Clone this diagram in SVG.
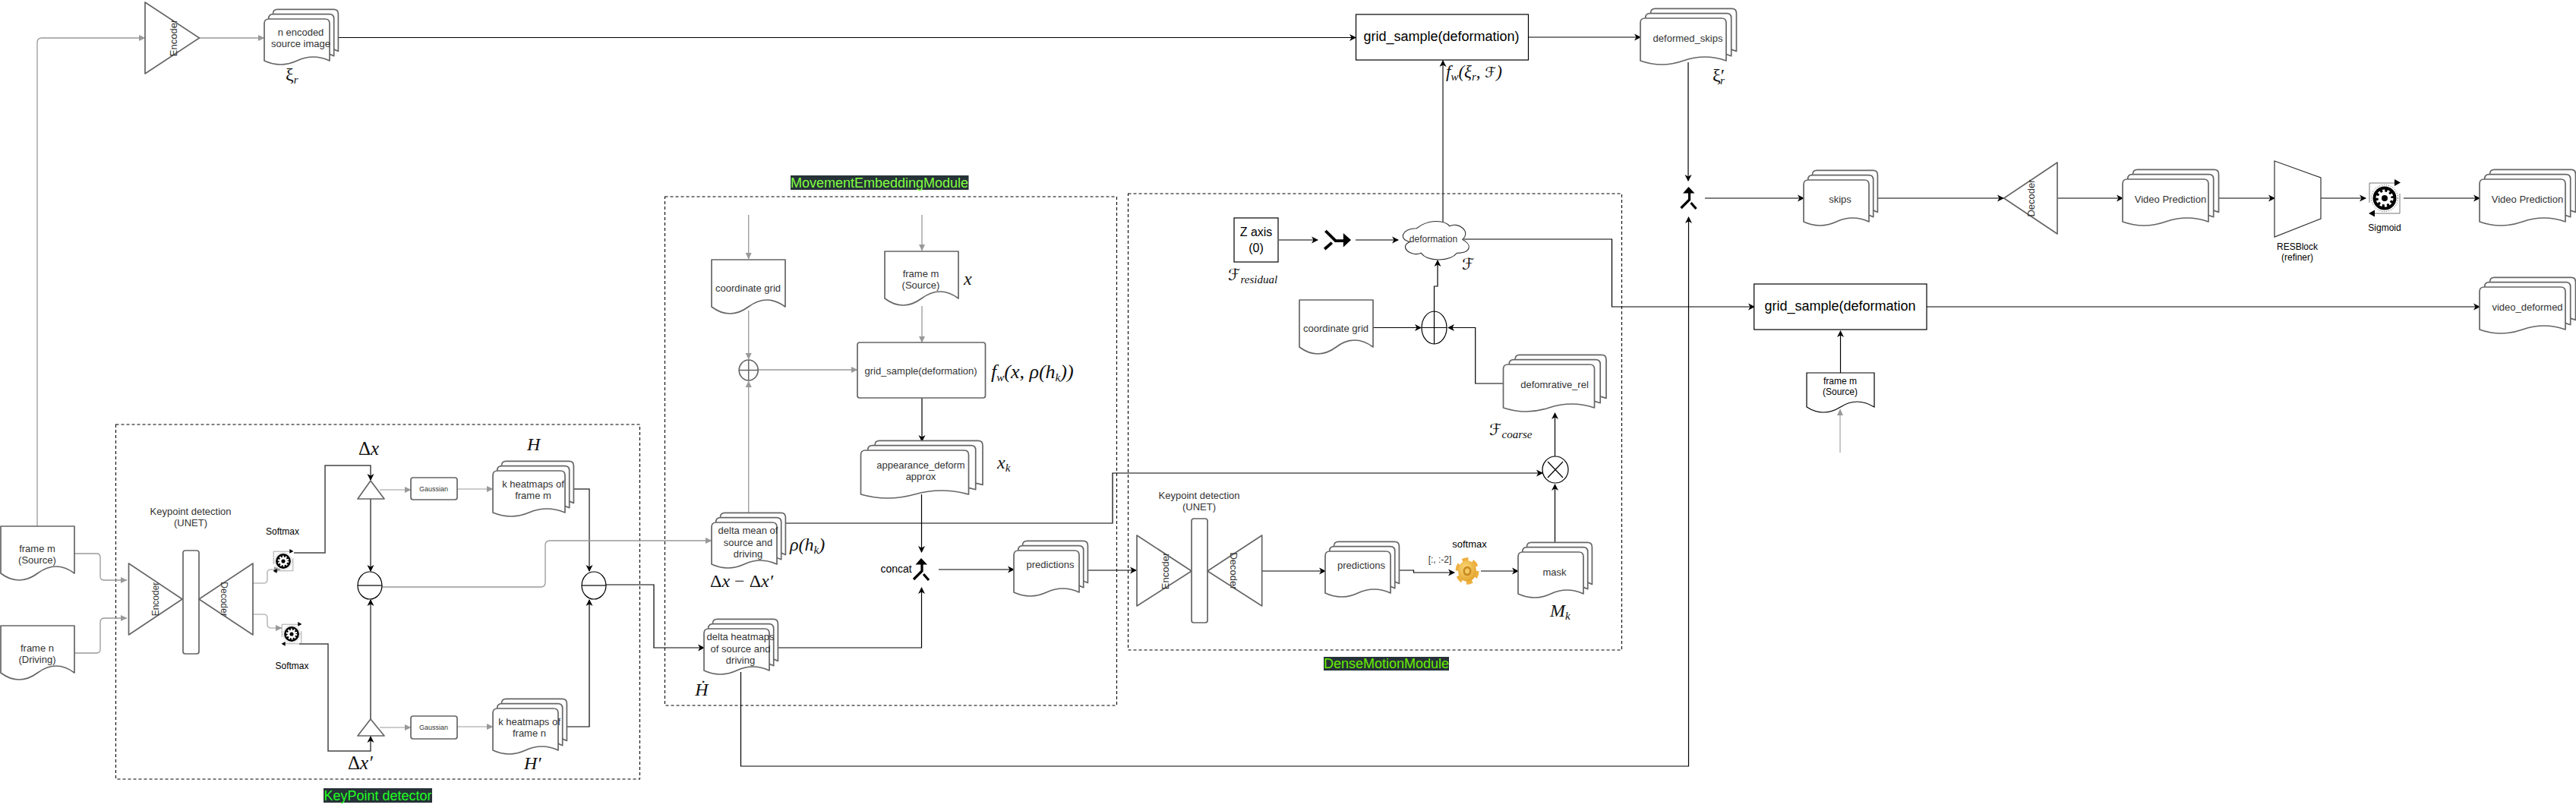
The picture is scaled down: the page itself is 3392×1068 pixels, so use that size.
<svg xmlns="http://www.w3.org/2000/svg" width="3392" height="1068" viewBox="0 0 3392 1068">
<style>
text{font-family:"Liberation Sans",Arial,sans-serif;text-anchor:middle;dominant-baseline:central;fill:#333;font-size:13px}
.k{fill:#000}.f12{font-size:12px}.f9{font-size:9px}.f14{font-size:14px}.f16{font-size:16px}.f18{font-size:18px}
.lbl{font-size:18px}
.m{font-family:"Liberation Serif","DejaVu Serif",serif;font-style:italic;font-size:24px;fill:#111;text-anchor:start;dominant-baseline:auto}
.sc{font-family:"DejaVu Sans",sans-serif;font-style:normal;font-size:21px}
.s{font-size:15px}
.c{text-anchor:middle}
.up{font-style:normal}
.d{fill:#fff;stroke:#666;stroke-width:1.7;stroke-linejoin:round}
.t{fill:#fff;stroke:#000;stroke-width:1.2}
.dash{fill:none;stroke:#000;stroke-width:1.1;stroke-dasharray:4 3}
.g{fill:none;stroke:#999;stroke-width:1.3;marker-end:url(#ag)}
.gl{fill:none;stroke:#bbb;stroke-width:1.6;marker-end:url(#ag)}
.b{fill:none;stroke:#000;stroke-width:1.2;marker-end:url(#ab)}
.b0{fill:none;stroke:#000;stroke-width:1.2}
.dk{fill:none;stroke:#444;stroke-width:1.5;marker-end:url(#ab)}
</style>
<defs>
<marker id="ab" markerUnits="userSpaceOnUse" markerWidth="12" markerHeight="12" refX="9" refY="6" orient="auto"><path d="M1,1.5L10,6L1,10.5L3.5,6Z" fill="#000"/></marker>
<marker id="ag" markerUnits="userSpaceOnUse" markerWidth="12" markerHeight="12" refX="9" refY="6" orient="auto"><path d="M1,2L9.5,6L1,10Z" fill="#999"/></marker>
<path id="p86" class="d" d="M0,6Q0,0 6,0H80Q86,0 86,6V55Q64.5,45 43,55Q21.5,65 0,55Z"/>
<path id="p95" class="d" d="M0,6Q0,0 6,0H89Q95,0 95,6V55Q71,45 47.5,55Q24,65 0,55Z"/>
<path id="p113" class="d" d="M0,6Q0,0 6,0H107Q113,0 113,6V56Q85,46 56.5,56Q28,66 0,56Z"/>
<path id="p120" class="d" d="M0,6Q0,0 6,0H114Q120,0 120,6V57Q90,47 60,57Q30,67 0,57Z"/>
<path id="p142" class="d" d="M0,6Q0,0 6,0H136Q142,0 142,6V58Q106,48 71,58Q35,68 0,58Z"/>
<g id="s86"><use href="#p86" x="11.4" y="-12.6"/><use href="#p86" x="5.7" y="-6.3"/><use href="#p86"/></g>
<g id="s95"><use href="#p95" x="11.4" y="-12.6"/><use href="#p95" x="5.7" y="-6.3"/><use href="#p95"/></g>
<g id="s113"><use href="#p113" x="13.5" y="-12.6"/><use href="#p113" x="6.7" y="-6.3"/><use href="#p113"/></g>
<g id="s120"><use href="#p120" x="15.5" y="-12.6"/><use href="#p120" x="7.7" y="-6.3"/><use href="#p120"/></g>
<g id="s142"><use href="#p142" x="18.5" y="-12.6"/><use href="#p142" x="9.2" y="-6.3"/><use href="#p142"/></g>
<path id="doc" class="d" d="M0,0H97V62Q73,44 48.5,62Q24,80 0,62Z"/>
<g id="merge"><path d="M1,8V17L-10,28" fill="none" stroke="#000" stroke-width="3.2"/><path d="M3,21L10,29" fill="none" stroke="#000" stroke-width="3.2"/><path d="M-7.5,8.5L0,0L8,8.5Z" fill="#000"/></g>
<g id="gear">
<path d="M-20,6V-20H15M20,-6V20H-15" fill="none" stroke="#777" stroke-width="1"/>
<path d="M13,-25L21,-20.5L13,-16ZM-13,15.5L-21,20L-13,24.5Z" fill="#000"/>
<circle r="17.5" fill="none" stroke="#444" stroke-width="1" stroke-dasharray="1 2"/>
<circle r="15.5" fill="#000"/>
<circle r="8.5" fill="#fff"/>
<circle r="9.5" fill="none" stroke="#fff" stroke-width="4" stroke-dasharray="3 2.97"/>
<circle r="4" fill="#000"/>
</g>
<radialGradient id="og" cx=".4" cy=".35" r=".8"><stop offset="0" stop-color="#fbd878"/><stop offset="1" stop-color="#e09a20"/></radialGradient>
</defs>

<g id="frames">
<rect class="dash" x="152.5" y="559" width="690" height="467"/>
<rect class="dash" x="875.5" y="259" width="595" height="670"/>
<rect class="dash" x="1485.5" y="255" width="650" height="601"/>
</g>

<g id="connectors">
<path class="g" d="M49,693V56Q49,50 55,50H191"/>
<path class="g" d="M262,50H348"/>
<path class="b" d="M445,49.5H1785"/>
<path class="b" d="M2012.5,49H2160"/>
<path class="b" d="M2223,82V238"/>
<path class="b" d="M2245,261H2375"/>
<path class="b" d="M2472,261H2638"/>
<path class="b" d="M2710,261H2795"/>
<path class="b" d="M2922,261H2995"/>
<path class="b" d="M3056,261H3115"/>
<path class="b" d="M3165,261H3265"/>
<path class="b" d="M2537,404H3265"/>
<path class="b" d="M2423.5,491V436"/>
<path class="gl" d="M2423,596V539"/>
<path class="b" d="M975.5,885V1009H2223.5V286"/>
<path class="g" d="M98,729H127Q132,729 132,734V759Q132,764 137,764H167"/>
<path class="g" d="M98,860H127Q132,860 132,855V820Q132,814 137,814H167"/>
<path class="gl" d="M333,768H347Q352,768 352,763V754Q352,750 357,750H369"/>
<path class="gl" d="M333,809H347Q352,809 352,814V822Q352,827 357,827H371"/>
<path class="dk" d="M387,728H428V613H488V632"/>
<path class="dk" d="M394,848H432V989H488V970"/>
<path class="dk" d="M488,657V752"/>
<path class="dk" d="M488,947V790"/>
<path class="gl" d="M500,645H541"/>
<path class="gl" d="M602,644H649"/>
<path class="gl" d="M500,958H541"/>
<path class="gl" d="M602,957H649"/>
<path class="dk" d="M756,644H776V752"/>
<path class="b" d="M746,957H776V790"/>
<path class="g" d="M502,773H712Q718,773 718,767V718Q718,712 724,712H937"/>
<path class="b" d="M795,770H861V853H927"/>
<path class="g" d="M985.7,283V341"/>
<path class="g" d="M1214,283V330"/>
<path class="g" d="M1214,403V451"/>
<path class="g" d="M985.7,409V473"/>
<path class="g" d="M985.7,675V502"/>
<path class="g" d="M998,487H1129"/>
<path class="b" d="M1214,524V581"/>
<path class="b" d="M1213.5,651V727"/>
<path class="b" d="M1024,853H1213.5V774"/>
<path class="b" d="M1034,689H1465V623H2031"/>
<path class="b" d="M1236,750H1335"/>
<path class="b" d="M1432,751H1496"/>
<path class="b" d="M1662,752H1745"/>
<path class="b" d="M1842,751H1861.5V754H1915"/>
<path class="b" d="M1950,752H1999"/>
<path class="b" d="M2047.5,714V638"/>
<path class="b" d="M2047.5,601V544"/>
<path class="b" d="M1979.5,505H1942.7V431.5H1907"/>
<path class="b" d="M1808,431.5H1871"/>
<path class="b" d="M1888.5,410V377H1893V343"/>
<path class="b" d="M1684,316H1735"/>
<path class="b" d="M1785,316H1841"/>
<path class="dk" d="M1900,297V80"/>
<path class="b" d="M1927.5,315H2122.5V404H2310"/>
</g>

<g id="frame-m"><use href="#doc" x="1" y="693"/><text x="49" y="722">frame m</text><text x="49" y="737">(Source)</text></g>
<g id="frame-n"><use href="#doc" x="1" y="824"/><text x="49" y="853">frame n</text><text x="49" y="868">(Driving)</text></g>

<g id="encoder-top"><path class="d" d="M191,3V97L262.5,50Z"/><text transform="translate(228,50) rotate(-90)">Encoder</text></g>
<g id="n-encoded"><use href="#s86" x="348" y="25"/><text x="396" y="42">n encoded</text><text x="396" y="57">source image</text></g>
<g id="label-xi"><text class="m up" x="376" y="106">ξ<tspan class="s" font-style="italic" dy="4">r</tspan></text></g>

<g id="grid-sample-top"><rect class="t" x="1785.5" y="19" width="227" height="60"/><text class="k f18" x="1898" y="48">grid_sample(deformation)</text></g>
<g id="label-fw-top"><text class="m" style="font-size:23px" x="1904" y="102">f<tspan dy="4" class="s">w</tspan><tspan dy="-4">(ξ</tspan><tspan dy="4" class="s">r</tspan><tspan dy="-4">, </tspan><tspan class="sc" style="font-size:19px">ℱ</tspan><tspan>)</tspan></text></g>
<g id="deformed-skips"><use href="#s113" x="2160" y="24"/><text x="2222.5" y="50">deformed_skips</text></g>
<g id="label-xi-prime"><text class="m up" x="2255" y="107">ξ′<tspan class="s" font-style="italic" dx="-6" dy="4">r</tspan></text></g>

<g id="merge-top"><use href="#merge" x="2223.5" y="246"/></g>
<g id="skips"><use href="#s86" x="2375" y="237"/><text x="2423" y="262">skips</text></g>
<g id="decoder-top"><path class="d" d="M2638.7,261L2709,214V308Z"/><text transform="translate(2674,261) rotate(-90)">Decoder</text></g>
<g id="video-prediction-1"><use href="#s113" x="2795" y="236"/><text x="2858" y="262">Video Prediction</text></g>
<g id="resblock"><path d="M2995,212L3056,234V288L2995,312Z" fill="#fff" stroke="#333" stroke-width="1.2"/><text class="k f12" x="3025" y="325">RESBlock</text><text class="k f12" x="3025" y="339">(refiner)</text></g>
<g id="sigmoid"><use href="#gear" x="3140" y="261"/><text class="k f12" x="3140" y="300">Sigmoid</text></g>
<g id="video-prediction-2"><use href="#s113" x="3265" y="236"/><text x="3328" y="262">Video Prediction</text></g>
<g id="grid-sample-2"><rect class="t" x="2309.7" y="374" width="227.3" height="60"/><text class="k f18" x="2423" y="403">grid_sample(deformation</text></g>
<g id="video-deformed"><use href="#s113" x="3265" y="378"/><text x="3328" y="404">video_deformed</text></g>
<g id="frame-m-3"><path class="t" d="M2379,491H2468V536Q2445,522 2423.5,536Q2401,550 2379,536Z"/><text class="k f12" x="2423" y="502">frame m</text><text class="k f12" x="2423" y="516">(Source)</text></g>

<g id="keypoint-detector">
<text x="251" y="673">Keypoint detection</text><text x="251" y="688">(UNET)</text>
<path class="d" d="M169.5,742V836L240,789Z"/><text transform="translate(205,789) rotate(-90)" class="f12">Encoder</text>
<rect class="d" x="241" y="725" width="21" height="136" rx="3"/>
<path class="d" d="M262,789L333,742V836Z"/><text transform="translate(295,789) rotate(90)" class="f12">Decoder</text>
<text class="k f12" x="372" y="700">Softmax</text>
<use href="#gear" transform="translate(373,739) scale(.64)"/>
<use href="#gear" transform="translate(384,835) scale(.64)"/>
<text class="k f12" x="384.5" y="877">Softmax</text>
<path class="d" d="M488,633L471,657H506Z"/>
<path class="d" d="M488,947L471,969H506Z"/>
<rect class="d" x="541" y="629" width="61" height="29" rx="3"/><text class="f9" x="571" y="644">Gaussian</text>
<rect class="d" x="541" y="943" width="61" height="30" rx="3"/><text class="f9" x="571" y="958">Gaussian</text>
<ellipse class="t" cx="487" cy="771" rx="16" ry="18"/><path class="b0" d="M471,771H503"/>
<ellipse class="t" cx="782" cy="771" rx="16" ry="18"/><path class="b0" d="M766,771H798"/>
</g>
<g id="heatmaps-m"><use href="#s95" x="649" y="620"/><text x="702" y="637">k heatmaps of</text><text x="702" y="652">frame m</text></g>
<g id="heatmaps-n"><use href="#s86" x="649" y="933"/><text x="697" y="950">k heatmaps of</text><text x="697" y="965">frame n</text></g>
<g id="labels-kp">
<text class="m up" x="472" y="599" style="font-size:25px">Δ<tspan font-style="italic">x</tspan></text>
<text class="m" x="694" y="593">H</text>
<text class="m up" x="458" y="1013" style="font-size:25px">Δ<tspan font-style="italic">x′</tspan></text>
<text class="m" x="690" y="1013">H′</text>
</g>
<g id="label-keypoint"><rect x="426" y="1038" width="143" height="19" fill="#263238"/><text class="lbl" x="497.5" y="1047.5" style="fill:#20ff20">KeyPoint detector</text></g>

<g id="label-movement"><rect x="1041" y="231" width="234.5" height="19" fill="#263238"/><text class="lbl" x="1158" y="240.5" style="fill:#80ff40">MovementEmbeddingModule</text></g>
<g id="coord-grid-1"><use href="#doc" x="937" y="342"/><text x="985" y="379">coordinate grid</text></g>
<g id="frame-m-2"><use href="#doc" x="1165" y="331"/><text x="1212.5" y="360">frame m</text><text x="1212.5" y="375">(Source)</text></g>
<g id="label-x"><text class="m" x="1269" y="375">x</text></g>
<g id="plus-1"><ellipse class="d" cx="985.7" cy="487.5" rx="12.5" ry="13.5"/><path d="M985.7,474V501M973,487.5H998" stroke="#666" stroke-width="1.5"/></g>
<g id="grid-sample-mid"><rect class="d" x="1129" y="451" width="168.5" height="73" rx="3"/><text x="1212.5" y="488">grid_sample(deformation)</text></g>
<g id="label-fw-mid"><text class="m" style="font-size:26px" x="1305" y="498">f<tspan dy="4" class="s">w</tspan><tspan dy="-4">(x, ρ(h</tspan><tspan dy="4" class="s">k</tspan><tspan dy="-4">))</tspan></text></g>
<g id="appearance"><use href="#s142" x="1133.5" y="593"/><text x="1212.5" y="612">appearance_deform</text><text x="1212.5" y="627">approx</text></g>
<g id="label-xk"><text class="m" x="1313" y="617">x<tspan dy="4" class="s">k</tspan></text></g>
<g id="delta-mean"><use href="#s86" x="937" y="688"/><text x="985" y="698">delta mean of</text><text x="985" y="714">source and</text><text x="985" y="729">driving</text></g>
<g id="label-rho"><text class="m" x="1040" y="725">ρ(h<tspan dy="4" class="s">k</tspan><tspan dy="-4">)</tspan></text></g>
<g id="label-delta"><text class="m up" x="935" y="773">Δ<tspan font-style="italic">x</tspan> − Δ<tspan font-style="italic">x′</tspan></text></g>
<g id="delta-heatmaps"><use href="#s86" x="927" y="828"/><text x="975" y="838">delta heatmaps</text><text x="975" y="854">of source and</text><text x="975" y="869">driving</text></g>
<g id="label-hdot"><text class="m c" x="924" y="916">Ḣ</text></g>
<g id="concat"><use href="#merge" x="1213" y="735"/><text class="k f14" x="1180" y="749">concat</text></g>
<g id="predictions-1"><use href="#s86" x="1335" y="725"/><text x="1383" y="743">predictions</text></g>

<g id="label-dense"><rect x="1743" y="865" width="165" height="18" fill="#263238"/><text class="lbl" x="1825.5" y="874" style="fill:#66ee00">DenseMotionModule</text></g>
<g id="z-axis"><rect class="t" x="1625" y="287" width="58" height="58"/><text class="k f16" x="1654" y="305">Z axis</text><text class="k f16" x="1654" y="326">(0)</text></g>
<g id="label-fres"><text class="m" x="1617" y="369"><tspan class="sc">ℱ</tspan><tspan dy="4" class="s">residual</tspan></text></g>
<g id="merge-z"><use href="#merge" transform="translate(1779,316) rotate(90) scale(1.2)"/></g>
<g id="deformation"><path transform="translate(1841,286) scale(.97,.59)" d="M25,25C5,25 0,50 16,55C0,66 18,90 31,80C40,100 70,100 80,80C100,80 100,60 87.5,50C100,30 80,10 70,20C62.5,5 40,5 25,25Z" fill="#fff" stroke="#333" stroke-width="1.1" vector-effect="non-scaling-stroke"/><text class="f12" x="1887.5" y="315">deformation</text></g>
<g id="label-f"><text class="m" x="1925" y="355"><tspan class="sc">ℱ</tspan></text></g>
<g id="coord-grid-2"><use href="#doc" x="1711" y="395"/><text x="1759" y="432">coordinate grid</text></g>
<g id="plus-2"><ellipse class="t" cx="1888.5" cy="431.5" rx="16.5" ry="21.5"/><path class="b0" d="M1888.5,410V453M1872,431.5H1905"/></g>
<g id="deformative-rel"><use href="#s120" x="1979.5" y="480"/><text x="2047" y="506">defomrative_rel</text></g>
<g id="label-fcoarse"><text class="m" x="1961" y="573"><tspan class="sc">ℱ</tspan><tspan dy="4" class="s">coarse</tspan></text></g>
<g id="times"><ellipse class="t" cx="2048" cy="618.5" rx="17" ry="17.5"/><path class="b0" d="M2038,608L2058,629M2058,608L2038,629"/></g>
<g id="keypoint-dense">
<text x="1579" y="652">Keypoint detection</text><text x="1579" y="667">(UNET)</text>
<path class="d" d="M1497,705V798L1569,752Z"/><text transform="translate(1534,752) rotate(-90)">Encoder</text>
<rect class="d" x="1569" y="683" width="21" height="137" rx="3"/>
<path class="d" d="M1590,752L1661.7,705V798Z"/><text transform="translate(1624,752) rotate(90)">Decoder</text>
</g>
<g id="predictions-2"><use href="#s86" x="1745" y="726"/><text x="1792.5" y="744">predictions</text></g>
<g id="softmax-2">
<text class="f12" x="1896" y="737">[:, :-2]</text><text class="k" x="1935" y="716">softmax</text>
<g transform="translate(1932,752) scale(1,1.15)"><circle r="12.5" fill="none" stroke="#eeb040" stroke-width="6" stroke-dasharray="7.5 5.6"/><circle r="12" fill="url(#og)"/><circle r="5.5" fill="#c98a20"/><circle r="3" fill="#f4c860"/></g>
</g>
<g id="mask"><use href="#s86" x="1999" y="727"/><text x="2047" y="753">mask</text></g>
<g id="label-mk"><text class="m" x="2041" y="812">M<tspan dy="4" class="s">k</tspan></text></g>
</svg>
